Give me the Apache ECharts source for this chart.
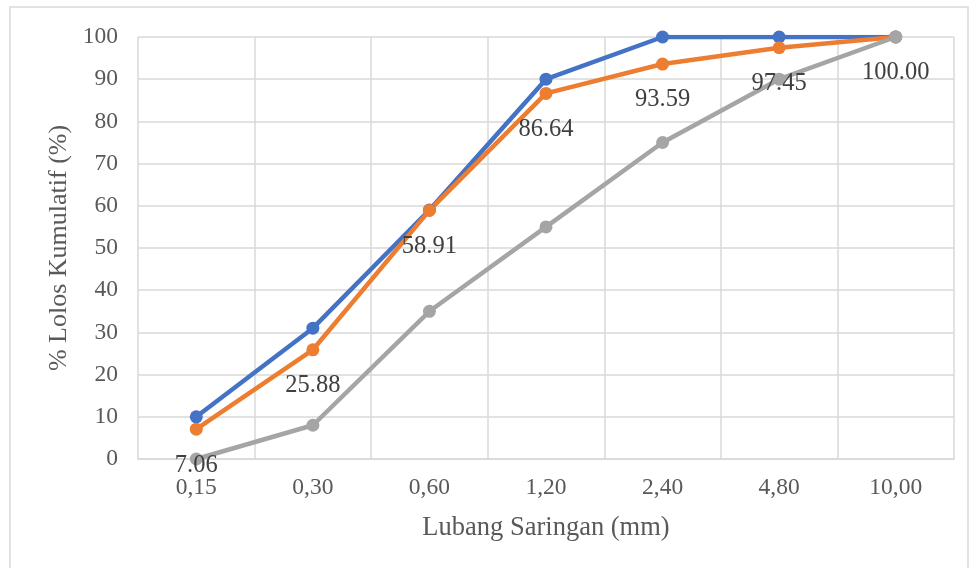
<!DOCTYPE html>
<html>
<head>
<meta charset="utf-8">
<script src="https://cdn.jsdelivr.net/npm/echarts@6/dist/echarts.min.js"></script>
<style>html,body{margin:0;padding:0;background:#fff}#c{width:973px;height:568px}</style>
</head>
<body>
<div id="c"></div>
<script>
const categories = ['0,15', '0,30', '0,60', '1,20', '2,40', '4,80', '10,00'];
const upperLimit = [10, 31, 59, 90, 100, 100, 100];
const sample = [7.06, 25.88, 58.91, 86.64, 93.59, 97.45, 100.00];
const lowerLimit = [0, 8, 35, 55, 75, 90, 100];
const yTicks = [0, 10, 20, 30, 40, 50, 60, 70, 80, 90, 100];

const font = '"Liberation Serif", "Times New Roman", serif';
const chart = echarts.init(document.getElementById('c'), null, {renderer: 'canvas'});
function lineSeries(name, data, color, withLabel) {
  return {
    name: name, type: 'line', data: data,
    symbol: 'circle', symbolSize: 13,
    lineStyle: {width: 4.5, color: color},
    itemStyle: {color: color},
    label: withLabel ? {
      show: true, position: 'bottom', distance: 17,
      fontFamily: font, fontSize: 24.5, color: '#404040',
      formatter: p => p.value.toFixed(2)
    } : {show: false},
    animation: false
  };
}
chart.setOption({
  animation: false,
  backgroundColor: '#fff',
  graphic: [{
    type: 'rect', shape: {x: 10, y: 7, width: 958, height: 600},
    style: {fill: 'none', stroke: '#D9D9D9', lineWidth: 1.5}, silent: true, z: -1
  }],
  grid: {left: 138, right: 19, top: 37, bottom: 109},
  xAxis: {
    type: 'category', data: categories, boundaryGap: true,
    name: 'Lubang Saringan (mm)', nameLocation: 'middle', nameGap: 56,
    nameTextStyle: {fontFamily: font, fontSize: 26.5, color: '#595959'},
    axisLine: {show: true, lineStyle: {color: '#D9D9D9', width: 1.5}},
    axisTick: {show: false},
    axisLabel: {fontFamily: font, fontSize: 23.5, color: '#595959', margin: 17},
    splitLine: {show: true, lineStyle: {color: '#D9D9D9', width: 1.5}}
  },
  yAxis: {
    type: 'value', min: yTicks[0], max: yTicks[yTicks.length - 1], interval: 10,
    name: '% Lolos Kumulatif (%)', nameLocation: 'middle', nameGap: 66, nameRotate: 90,
    nameTextStyle: {fontFamily: font, fontSize: 26, color: '#595959'},
    axisLine: {show: false}, axisTick: {show: false},
    axisLabel: {fontFamily: font, fontSize: 23.5, color: '#595959', margin: 20},
    splitLine: {show: true, lineStyle: {color: '#D9D9D9', width: 1.5}}
  },
  series: [
    lineSeries('Batas Atas', upperLimit, '#4472C4', false),
    lineSeries('Sampel', sample, '#ED7D31', true),
    lineSeries('Batas Bawah', lowerLimit, '#A5A5A5', false)
  ]
});
</script>
</body>
</html>
